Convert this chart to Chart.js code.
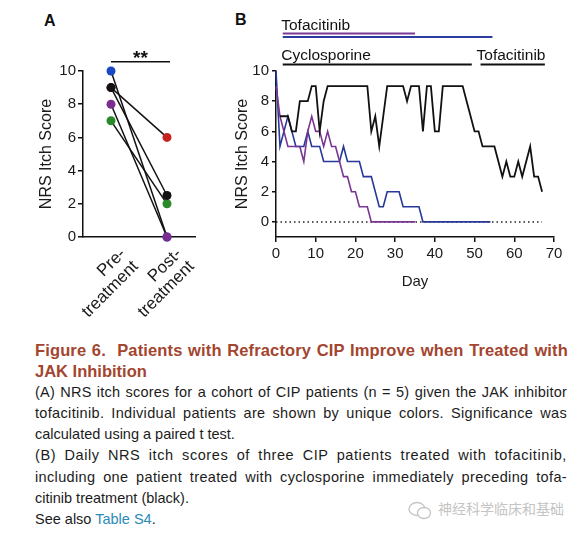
<!DOCTYPE html>
<html>
<head>
<meta charset="utf-8">
<script src="https://cdn.jsdelivr.net/npm/chart.js@4.4.0/dist/chart.umd.min.js"></script>
<style>
  body { margin:0; background:#fff; width:583px; height:533px; overflow:hidden; position:relative;
         font-family:"Liberation Sans", Arial, sans-serif; }
  canvas { position:absolute; }
  #chartA { left:0; top:0; }
  #chartB { left:230px; top:0; }
  .panel { position:absolute; font-weight:bold; font-size:16px; line-height:16px; color:#111; }
  #caption { position:absolute; left:35px; top:340px; width:532px; line-height:21.1px; }
  #caption div { white-space:nowrap; }
  .t { font-weight:bold; font-size:16.5px; color:#a3452f; }
  .b { font-size:14.5px; color:#1c1c1c; }
  .link { color:#2a8ab8; }
  #mark { position:absolute; left:408px; top:498px; font-size:14px; color:#c4c4c4; white-space:nowrap;
          font-family:"Noto Sans CJK SC", sans-serif; line-height:20px; }
  #mark svg { vertical-align:middle; margin-right:6px; }
</style>
</head>
<body>
<div class="panel" style="left:44px;top:12.5px">A</div>
<div class="panel" style="left:235px;top:11.5px">B</div>
<canvas id="chartA" width="230" height="330"></canvas>
<canvas id="chartB" width="353" height="300"></canvas>

<div id="caption">
  <div class="t j">Figure 6.&nbsp; Patients with Refractory CIP Improve when Treated with</div>
  <div class="t">JAK Inhibition</div>
  <div class="b j">(A) NRS itch scores for a cohort of CIP patients (n = 5) given the JAK inhibitor</div>
  <div class="b j">tofacitinib. Individual patients are shown by unique colors. Significance was</div>
  <div class="b">calculated using a paired t test.</div>
  <div class="b j">(B) Daily NRS itch scores of three CIP patients treated with tofacitinib,</div>
  <div class="b j">including one patient treated with cyclosporine immediately preceding tofa-</div>
  <div class="b">citinib treatment (black).</div>
  <div class="b">See also <span class="link">Table S4</span>.</div>
</div>
<div id="mark"><svg width="24" height="19" viewBox="0 0 24 19"><ellipse cx="9" cy="8" rx="8" ry="6.5" fill="none" stroke="#c4c4c4" stroke-width="1.3"/><ellipse cx="16" cy="12" rx="6.5" ry="5.5" fill="#fff" stroke="#c4c4c4" stroke-width="1.3"/></svg>神经科学临床和基础</div>

<script>
// ======= Datos panel A =======
const categoriesA = [['Pre-', 'treatment'], ['Post-', 'treatment']];
const patientsA = ['purple', 'black', 'green', 'blue', 'red'];
const preA = [8, 9, 7, 10, 9];
const postA = [0, 2.5, 2, 0, 6];
const yTicksA = [0, 2, 4, 6, 8, 10];
const sigLabelA = '**';

// ======= Datos panel B =======
const daysB = [0, 1, 2, 3, 4, 5, 6, 7, 8, 9, 10, 11, 12, 13, 14, 15, 16, 17, 18, 19,
  20, 21, 22, 23, 24, 25, 26, 27, 28, 29, 30, 31, 32, 33, 34, 35, 36, 37, 38, 39,
  40, 41, 42, 43, 44, 45, 46, 47, 48, 49, 50, 51, 52, 53, 54, 55, 56, 57, 58, 59,
  60, 61, 62, 63, 64, 65, 66, 67];
const blackB = [null, 7, 7, 7, 6, 6, 8, 8, 8, 9, 9, 6, 8, 9, 9, 9, 9, 9, 9, 9,
  9, 9, 9, 9, 6, 7, 5, 7, 9, 9, 9, 9, 9, 8, 9, 9, 9, 6, 9, 9,
  6, 6, 9, 9, 9, 9, 9, 9, 8, 7, 6, 6, 5, 5, 5, 5, 4, 3, 4, 3,
  3, 4, 3, 4, 5, 3, 3, 2];
const blueB = [10, 5, 6, 7, 6, 5, 5, 5, 6, 5, 5, 5, 4, 4, 4, 4, 4, 5, 4, 4,
  4, 4, 3, 3, 3, 2, 1, 1, 2, 2, 2, 2, 1, 1, 1, 1, 1, 0, 0, 0,
  0, 0, 0, 0, 0, 0, 0, 0, 0, 0, 0, 0, 0, 0, 0];
const purpleB = [9, 7, 6, 5, 5, 5, 5, 4, 6, 7, 6, 6, 5, 6, 5, 5, 4, 3, 3, 2,
  2, 1, 1, 1, 0, 0, 0, 0, 0, 0, 0, 0, 0, 0, 0, 0];
const zeroLineDays = [0, 67];
const xTicksB = [0, 10, 20, 30, 40, 50, 60, 70];
const yTicksB = [0, 2, 4, 6, 8, 10];

const treatmentNames = ['Tofacitinib', 'Tofacitinib', 'Cyclosporine', 'Tofacitinib'];
const treatmentStart = [1.7, 1.7, 1.7, 51.5];
const treatmentEnd = [35, 54.5, 49.3, 67.7];

// ======= Estilos =======
const FONT = '"Liberation Sans", Arial, sans-serif';
Chart.defaults.font.family = FONT;
Chart.defaults.color = '#1a1a1a';

const coloresA = { purple: '#7a2d8f', black: '#111111', green: '#2a8a2a', blue: '#1a47c4', red: '#c62222' };
// y en pixeles, color y etiqueta de cada barra de tratamiento
const estiloBarras = [
  { color: '#7d3a97', y: 33.5, label: true, textY: 30, dx: -1.5 },
  { color: '#2b3b9e', y: 37, label: false },
  { color: '#111111', y: 64.5, label: true, textY: 59.5, dx: -1.5 },
  { color: '#111111', y: 64.5, label: true, textY: 59.5, dx: -4 }
];

// ======= Plugins =======
const sigBar = {
  id: 'sigBar',
  afterDraw(chart) {
    const { ctx, scales: { x, y } } = chart;
    const x0 = x.getPixelForValue(0);
    const x1 = x.getPixelForValue(1) + 3;
    const yy = y.getPixelForValue(10.55);
    ctx.save();
    ctx.strokeStyle = '#111';
    ctx.lineWidth = 1.5;
    ctx.beginPath(); ctx.moveTo(x0, yy); ctx.lineTo(x1, yy); ctx.stroke();
    ctx.fillStyle = '#111';
    ctx.font = 'bold 19px ' + FONT;
    ctx.textAlign = 'center';
    ctx.textBaseline = 'alphabetic';
    ctx.fillText(sigLabelA, (x0 + x1) / 2, yy + 2);
    ctx.restore();
  }
};

const treatmentBars = {
  id: 'treatmentBars',
  afterDraw(chart) {
    const { ctx, scales: { x } } = chart;
    ctx.save();
    treatmentNames.forEach((name, i) => {
      const st = estiloBarras[i];
      const x0 = x.getPixelForValue(treatmentStart[i]);
      const x1 = x.getPixelForValue(treatmentEnd[i]);
      ctx.strokeStyle = st.color;
      ctx.lineWidth = 2;
      ctx.beginPath(); ctx.moveTo(x0, st.y); ctx.lineTo(x1, st.y); ctx.stroke();
      if (st.label) {
        ctx.fillStyle = '#111';
        ctx.font = '15.5px ' + FONT;
        ctx.textAlign = 'left';
        ctx.textBaseline = 'alphabetic';
        ctx.fillText(name, x0 + st.dx, st.textY);
      }
    });
    ctx.restore();
  }
};

// ======= Panel A =======
new Chart(document.getElementById('chartA'), {
  type: 'line',
  data: {
    labels: categoriesA,
    datasets: patientsA.map((p, i) => ({
      label: p,
      data: [preA[i], postA[i]],
      borderColor: '#111',
      borderWidth: 1.5,
      pointRadius: 4.5,
      pointBorderWidth: 0,
      pointBackgroundColor: coloresA[p],
      clip: false
    }))
  },
  options: {
    responsive: false,
    animation: false,
    devicePixelRatio: 1,
    layout: { padding: { left: 0, right: 35, top: 71, bottom: 0 } },
    plugins: { legend: { display: false }, tooltip: { enabled: false } },
    scales: {
      x: {
        offset: true,
        afterFit: s => { s.height = 93; },
        border: { display: true, color: '#111', width: 1.5 },
        grid: { display: false },
        ticks: { font: { size: 17, lineHeight: 1.05 }, color: '#1a1a1a', minRotation: 45, maxRotation: 45,
                 autoSkip: false, padding: 0, labelOffset: 12 }
      },
      y: {
        min: 0, max: 10,
        afterBuildTicks: s => { s.ticks = yTicksA.map(v => ({ value: v })); },
        afterFit: s => { s.width = 83; },
        border: { display: true, color: '#111', width: 1.5 },
        grid: { drawOnChartArea: false, color: '#111', lineWidth: 1.5, tickLength: 5 },
        ticks: { font: { size: 15 }, color: '#1a1a1a', padding: 2 },
        title: { display: true, text: 'NRS Itch Score', font: { size: 16 }, color: '#1a1a1a',
                 padding: { top: 37, bottom: 0 } }
      }
    }
  },
  plugins: [sigBar]
});

// ======= Panel B =======
const lineaB = (label, data, color, width) => ({
  label, data, borderColor: color, borderWidth: width,
  pointRadius: 0, tension: 0, clip: false
});

new Chart(document.getElementById('chartB'), {
  type: 'line',
  data: {
    labels: daysB,
    datasets: [
      lineaB('black', blackB, '#111111', 1.8),
      lineaB('purple', purpleB, '#7a3593', 1.6),
      lineaB('blue', blueB, '#27389a', 1.6),
      {
        label: 'zero',
        data: zeroLineDays.map(d => ({ x: d, y: 0 })),
        borderColor: '#222', borderWidth: 1.5, borderDash: [1.5, 3],
        pointRadius: 0, clip: false
      }
    ]
  },
  options: {
    responsive: false,
    animation: false,
    devicePixelRatio: 1,
    layout: { padding: { left: 0, right: 29, top: 71, bottom: 0 } },
    plugins: { legend: { display: false }, tooltip: { enabled: false } },
    scales: {
      x: {
        type: 'linear', min: 0, max: 70,
        afterBuildTicks: s => { s.ticks = xTicksB.map(v => ({ value: v })); },
        afterFit: s => { s.height = 63; },
        border: { display: true, color: '#111', width: 1.5 },
        grid: { drawOnChartArea: false, color: '#111', lineWidth: 1.5, tickLength: 5 },
        ticks: { font: { size: 15 }, color: '#1a1a1a', padding: 3, maxRotation: 0 },
        title: { display: true, text: 'Day', font: { size: 15 }, color: '#1a1a1a',
                 padding: { top: 0, bottom: 9 } }
      },
      y: {
        min: -1, max: 10,
        afterBuildTicks: s => { s.ticks = yTicksB.map(v => ({ value: v })); },
        afterFit: s => { s.width = 46; },
        border: { display: true, color: '#111', width: 1.5 },
        grid: { drawOnChartArea: false, color: '#111', lineWidth: 1.5, tickLength: 4 },
        ticks: { font: { size: 15 }, color: '#1a1a1a', padding: 3 },
        title: { display: true, text: 'NRS Itch Score', font: { size: 16 }, color: '#1a1a1a',
                 padding: { top: 3, bottom: 0 } }
      }
    }
  },
  plugins: [treatmentBars]
});

// ======= Justificar lineas del texto =======
document.querySelectorAll('#caption .j').forEach(el => {
  const target = 532;
  const span = document.createElement('span');
  span.innerHTML = el.innerHTML;
  el.innerHTML = '';
  el.appendChild(span);
  const natural = span.getBoundingClientRect().width;
  const txt = span.textContent;
  const spaces = (txt.match(/ /g) || []).length;
  const extra = target - natural;
  // la mitad del espacio extra entre letras, la otra mitad entre palabras
  const ls = extra * 0.5 / (txt.length - 1);
  el.style.letterSpacing = ls + 'px';
  const natural2 = span.getBoundingClientRect().width;
  if (spaces) el.style.wordSpacing = ((target - natural2) / spaces) + 'px';
});
</script>
</body>
</html>
